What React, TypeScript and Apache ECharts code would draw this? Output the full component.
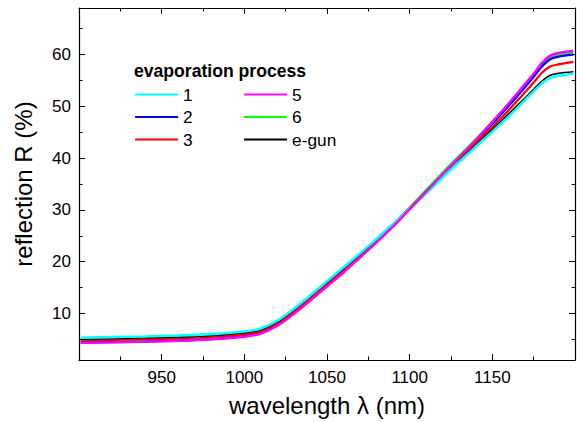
import React, { useEffect, useRef } from "react";
import * as echarts from "echarts";

const wavelengths = [901, 920, 940, 960, 980, 1000, 1010, 1020, 1030, 1040, 1050, 1060, 1070, 1080, 1090, 1100, 1110, 1120, 1130, 1140, 1150, 1160, 1170, 1175, 1180, 1185, 1190, 1199];

const r1 = [5.3, 5.42, 5.55, 5.72, 6.0, 6.5, 7.1, 8.6, 10.9, 13.5, 16.2, 18.9, 21.6, 24.4, 27.3, 30.2, 33.2, 36.3, 39.3, 42.2, 45.1, 48.1, 51.3, 52.9, 54.4, 55.5, 55.9, 56.3];
const r2 = [4.35, 4.45, 4.57, 4.75, 5.05, 5.6, 6.2, 7.7, 10.0, 12.6, 15.3, 18.0, 20.9, 23.8, 26.9, 30.2, 33.5, 36.8, 40.0, 43.2, 46.6, 50.1, 53.8, 55.7, 57.7, 59.1, 59.6, 60.0];
const r3 = [4.8, 4.9, 5.02, 5.2, 5.5, 6.0, 6.6, 8.1, 10.4, 13.0, 15.7, 18.4, 21.3, 24.2, 27.2, 30.3, 33.5, 36.7, 39.8, 42.9, 46.0, 49.3, 52.8, 54.6, 56.5, 57.7, 58.1, 58.6];
const r5 = [4.3, 4.4, 4.52, 4.7, 5.0, 5.5, 6.1, 7.6, 9.9, 12.5, 15.2, 17.9, 20.8, 23.7, 26.8, 30.1, 33.5, 36.9, 40.2, 43.5, 47.0, 50.6, 54.4, 56.3, 58.4, 59.8, 60.3, 60.7];
const r6 = [4.6, 4.7, 4.82, 5.0, 5.3, 5.8, 6.4, 7.9, 10.2, 12.8, 15.5, 18.2, 21.2, 24.1, 27.2, 30.5, 33.9, 37.3, 40.5, 43.7, 47.1, 50.6, 54.3, 56.2, 58.1, 59.5, 60.0, 60.4];
const rGun = [5.05, 5.15, 5.28, 5.45, 5.75, 6.25, 6.85, 8.35, 10.7, 13.3, 16.0, 18.7, 21.4, 24.3, 27.2, 30.2, 33.3, 36.4, 39.5, 42.5, 45.5, 48.6, 51.7, 53.3, 54.9, 56.0, 56.4, 56.7];

const legendCol1 = ["1", "2", "3"];
const legendCol2 = ["5", "6", "e-gun"];
const yMinorTicks = [5, 15, 25, 35, 45, 55, 65];

const FONT = "'Liberation Sans', Arial, sans-serif";

export default function App() {
  const ref = useRef<HTMLDivElement>(null);
  useEffect(() => {
    document.body.style.margin = "0";
    const chart = echarts.init(ref.current!, null, { renderer: "svg" });
    const zip = (v: number[]) => wavelengths.map((w, i) => [w, v[i]]);
    const mk = (name: string, v: number[], color: string, width: number, z: number) => ({
      name,
      type: "line",
      data: zip(v),
      symbol: "none",
      smooth: 0.3,
      xAxisIndex: 0,
      yAxisIndex: 0,
      z,
      lineStyle: { color, width },
      itemStyle: { color },
    });
    const axisLine = { show: true, lineStyle: { color: "#000", width: 1.2 } };
    const yBase = { type: "value", min: 1, max: 69, splitLine: { show: false } };
    const xBase = { type: "value", min: 900, max: 1200, interval: 50, splitLine: { show: false } };
    const legendBase = {
      orient: "vertical",
      top: 86,
      padding: 0,
      itemWidth: 43,
      itemHeight: 14,
      itemGap: 5.5,
      selectedMode: false,
      itemStyle: { opacity: 0 },
      lineStyle: { width: 2.2 },
      textStyle: { fontSize: 17.3, color: "#000", fontFamily: FONT },
    };
    chart.setOption({
      animation: false,
      backgroundColor: "#fff",
      textStyle: { fontFamily: FONT },
      grid: { left: 79, top: 8, width: 496, height: 356, containLabel: false },
      legend: [
        { ...legendBase, left: 134, data: legendCol1 },
        { ...legendBase, left: 243, data: legendCol2 },
      ],
      graphic: [
        {
          type: "text",
          left: 134,
          top: 62,
          style: { text: "evaporation process", fontSize: 17.6, fontWeight: "bold", fill: "#000", fontFamily: FONT },
        },
      ],
      xAxis: [
        {
          ...xBase,
          position: "bottom",
          axisLine,
          axisTick: { show: true, inside: true, length: 6, lineStyle: { color: "#000", width: 1 } },
          minorTick: { show: true, splitNumber: 2, length: 3.5, lineStyle: { color: "#000", width: 1 } },
          axisLabel: {
            show: true,
            showMinLabel: false,
            showMaxLabel: false,
            margin: 9,
            fontSize: 17,
            color: "#000",
            fontFamily: FONT,
            formatter: (v: number) => String(v),
          },
          name: "wavelength \u03bb (nm)",
          nameLocation: "middle",
          nameGap: 33,
          nameTextStyle: { fontSize: 24, color: "#000", fontFamily: FONT },
        },
        {
          ...xBase,
          position: "top",
          axisLine,
          axisTick: { show: true, inside: true, length: 6, lineStyle: { color: "#000", width: 1 } },
          minorTick: { show: true, splitNumber: 2, length: 3.5, lineStyle: { color: "#000", width: 1 } },
          axisLabel: { show: false },
        },
      ],
      yAxis: [
        {
          ...yBase,
          position: "left",
          axisLine,
          axisTick: { show: true, inside: true, length: 6, lineStyle: { color: "#000", width: 1 } },
          axisLabel: { show: true, showMinLabel: false, showMaxLabel: false, margin: 8, fontSize: 17, color: "#000", fontFamily: FONT },
          name: "reflection R (%)",
          nameLocation: "middle",
          nameGap: 44,
          nameTextStyle: { fontSize: 24, color: "#000", fontFamily: FONT },
        },
        {
          ...yBase,
          position: "left",
          axisLine: { show: false },
          axisTick: { show: true, inside: true, length: 3.5, customValues: yMinorTicks, lineStyle: { color: "#000", width: 1 } },
          axisLabel: { show: false },
        },
        {
          ...yBase,
          position: "right",
          axisLine,
          axisTick: { show: true, inside: true, length: 6, lineStyle: { color: "#000", width: 1 } },
          axisLabel: { show: false },
        },
        {
          ...yBase,
          position: "right",
          axisLine: { show: false },
          axisTick: { show: true, inside: true, length: 3.5, customValues: yMinorTicks, lineStyle: { color: "#000", width: 1 } },
          axisLabel: { show: false },
        },
      ],
      series: [
        mk("6", r6, "#00ff00", 2, 2),
        mk("2", r2, "#0000ff", 2.2, 3),
        mk("3", r3, "#ff0000", 2.2, 4),
        mk("e-gun", rGun, "#000000", 1.5, 5),
        mk("1", r1, "#00ffff", 2.6, 6),
        mk("5", r5, "#ff00ff", 2.4, 7),
      ],
    });
    return () => chart.dispose();
  }, []);
  return <div ref={ref} style={{ position: "fixed", left: 0, top: 0, width: 577, height: 422 }} />;
}
